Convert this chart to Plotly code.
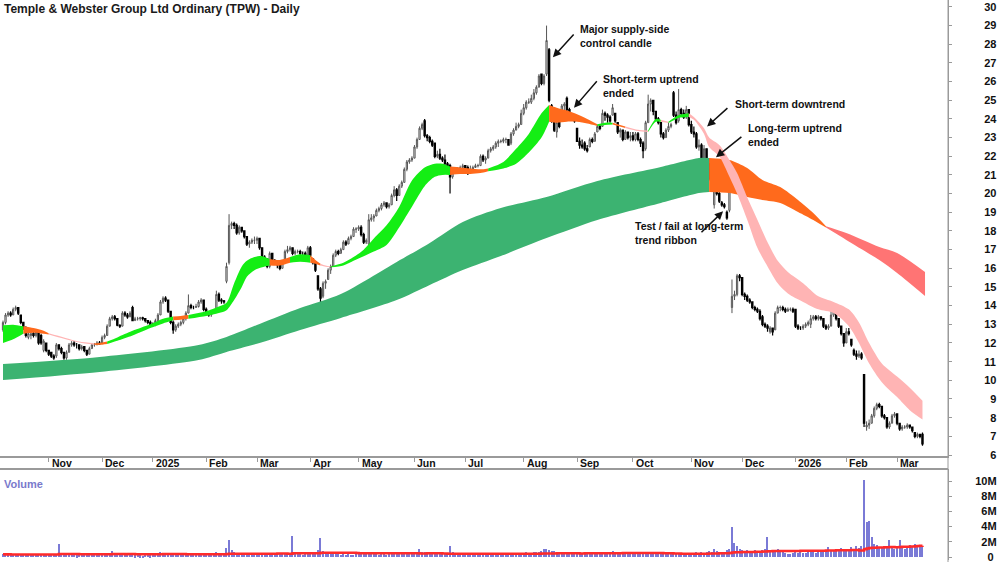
import plotly.graph_objects as go
import pandas as pd

TITLE = "Temple & Webster Group Ltd Ordinary (TPW) - Daily"

# ---------------- daily bars: (open, high, low, close), one list per month ----------------
bars_2024_10 = [(12.7,13.2,12.6,13.1),(13.1,13.6,13.0,13.5),(13.5,13.7,13.4,13.6),(13.6,13.7,13.4,13.5),
    (13.5,13.9,13.5,13.8),(13.8,14.0,13.7,13.9),(13.9,13.9,13.5,13.6),(13.5,13.5,13.0,13.1),(13.1,13.1,12.7,12.8),
    (12.8,12.9,12.3,12.4),(12.3,12.6,12.2,12.5),(12.4,12.6,12.2,12.5),(12.5,12.6,12.3,12.4),(12.4,12.7,12.3,12.6),
    (12.6,12.6,11.9,12.0),(12.4,12.5,11.9,12.0),(11.6,12.2,11.5,12.1),(12.0,12.0,11.5,11.6)]
bars_2024_11 = [(11.6,11.6,11.3,11.4),(11.5,11.5,11.2,11.3),(11.3,11.4,11.1,11.2),(11.3,12.0,11.2,11.9),
    (11.9,11.9,11.6,11.7),(11.7,11.8,11.4,11.5),(11.5,11.5,11.1,11.2),(11.2,11.6,11.1,11.5),(11.5,12.0,11.5,11.9),
    (11.9,12.1,11.8,12.0),(12.0,12.1,11.8,11.9),(11.9,12.0,11.7,11.9),(11.9,11.9,11.6,11.7),(11.7,11.9,11.6,11.8),
    (11.8,11.8,11.5,11.6),(11.6,11.6,11.3,11.4),(11.4,11.8,11.4,11.7),(11.7,12.0,11.7,11.9),(11.9,12.0,11.8,11.9),
    (11.9,12.1,11.9,12.0),(12.0,12.1,11.9,11.95)]
bars_2024_12 = [(12.0,12.4,12.0,12.3),(12.3,12.5,12.2,12.4),(12.4,13.0,12.4,12.9),(12.9,13.4,12.9,13.3),
    (13.3,13.5,13.2,13.4),(13.4,13.5,13.2,13.3),(13.3,13.3,12.9,12.95),(12.95,13.0,12.8,12.9),(12.9,13.7,12.9,13.6),
    (13.6,13.7,13.4,13.5),(13.5,13.6,13.3,13.4),(13.4,13.7,13.4,13.6),(13.9,14.0,13.2,13.2),(13.2,13.4,13.2,13.3),
    (13.3,13.4,13.2,13.3),(13.3,13.4,13.2,13.35),(13.35,13.4,13.2,13.3),(13.3,13.3,13.1,13.2),(13.2,13.2,13.0,13.1),
    (13.1,13.2,12.9,13.0)]
bars_2025_01 = [(13.0,13.1,12.9,13.0),(13.0,13.3,12.9,13.2),(13.2,13.6,13.1,13.5),(13.5,14.3,13.5,14.2),
    (14.2,14.5,14.1,14.4),(14.4,14.5,14.2,14.3),(14.3,14.3,13.6,13.7),(13.7,13.7,13.0,13.1),(13.1,13.2,12.5,12.7),
    (12.7,13.0,12.6,12.9),(12.9,13.1,12.8,13.0),(13.0,13.2,12.9,13.1),(13.1,13.4,13.0,13.3),(13.3,13.7,13.2,13.6),
    (13.6,14.6,13.6,14.0),(14.0,14.1,13.8,13.9),(13.9,14.0,13.8,13.9),(13.9,14.1,13.9,13.95),(13.95,14.3,13.9,14.2),
    (14.2,14.4,14.1,14.3),(14.3,14.3,13.7,13.8)]
bars_2025_02 = [(13.8,13.9,13.5,13.6),(13.6,13.7,13.4,13.5),(13.5,13.7,13.4,13.6),(13.6,13.8,13.6,13.7),
    (13.7,14.8,13.7,14.6),(14.6,14.7,14.2,14.3),(14.3,14.4,14.1,14.25),(14.25,14.3,14.1,14.2),(15.3,16.3,15.2,16.1),
    (16.3,18.9,16.2,18.3),(18.3,18.5,18.1,18.4),(18.4,18.5,18.1,18.3),(18.3,18.4,17.8,17.9),(17.9,18.3,17.8,18.2),
    (18.2,18.2,17.9,18.0),(18.0,18.0,17.6,17.7),(17.7,17.7,17.2,17.3),(17.3,17.5,17.1,17.4),(17.4,17.6,17.3,17.5),
    (17.5,17.7,17.3,17.5)]
bars_2025_03 = [(17.5,17.7,17.3,17.6),(17.6,17.6,17.0,17.1),(17.1,17.1,16.5,16.6),(16.6,16.7,16.3,16.5),
    (16.5,16.5,16.0,16.1),(16.1,16.9,16.0,16.8),(16.8,16.8,16.3,16.4),(16.4,16.5,16.2,16.3),(16.3,16.4,16.0,16.2),
    (16.2,16.3,15.9,16.0),(16.0,16.4,16.0,16.3),(16.3,17.0,16.3,16.9),(16.9,17.2,16.8,17.0),(17.0,17.2,16.9,17.1),
    (17.1,17.1,16.7,16.8),(16.8,17.0,16.7,16.9),(16.9,17.0,16.8,16.9),(16.9,17.0,16.7,16.8),(16.8,16.9,16.6,16.8),
    (16.8,16.9,16.6,16.7),(16.7,17.2,16.6,17.1)]
bars_2025_04 = [(17.1,17.2,16.6,16.7),(16.5,16.5,16.2,16.3),(16.3,16.3,15.8,15.9),(15.6,15.6,14.8,14.9),
    (14.9,15.0,14.0,14.4),(14.5,15.3,14.4,15.2),(15.2,15.4,14.9,15.3),(15.4,16.0,15.4,15.9),(15.9,16.2,15.7,16.1),
    (16.1,16.8,16.1,16.7),(16.7,17.0,16.6,16.9),(16.9,17.0,16.7,16.8),(16.8,17.1,16.8,17.0),(17.0,17.5,17.0,17.4),
    (17.4,17.5,17.2,17.3),(17.3,17.7,17.3,17.6),(17.6,17.8,17.5,17.7),(17.7,18.2,17.7,18.1),(18.1,18.2,17.9,18.1)]
bars_2025_05 = [(18.1,18.3,18.0,18.2),(18.2,18.3,17.7,17.8),(17.8,17.9,17.3,17.4),(17.4,17.6,17.3,17.5),
    (17.3,18.9,16.9,18.6),(18.6,18.9,18.5,18.7),(18.7,18.9,18.5,18.8),(18.8,19.2,18.8,19.1),(19.1,19.3,19.0,19.2),
    (19.2,19.5,19.1,19.4),(19.4,19.6,19.3,19.5),(19.5,19.5,19.2,19.3),(19.3,19.5,19.2,19.4),(19.4,20.0,19.4,19.9),
    (19.9,20.4,19.8,20.2),(20.2,20.3,19.6,19.9),(19.9,20.5,19.9,20.4),(20.4,20.7,20.3,20.6),(20.6,21.4,20.6,21.3),
    (21.3,21.8,21.2,21.7),(21.7,21.9,21.6,21.8),(21.8,22.0,21.7,21.9)]
bars_2025_06 = [(21.9,22.6,21.9,22.5),(22.5,23.0,22.4,22.9),(22.9,23.6,22.9,23.5),(23.5,23.8,23.4,23.7),
    (23.9,24.0,23.0,23.1),(23.1,23.2,22.8,23.0),(23.0,23.1,22.7,22.8),(22.8,22.9,22.5,22.6),(22.7,22.7,21.9,22.0),
    (22.0,22.3,21.9,22.1),(22.1,22.4,21.8,21.9),(21.9,22.0,21.7,21.8),(21.8,22.1,21.5,21.6),(21.6,21.7,21.2,21.3),
    (21.5,21.6,20.0,20.9),(20.9,21.4,20.8,21.2),(21.2,21.4,21.1,21.3),(21.3,21.4,21.1,21.2),(21.2,21.5,21.2,21.4),
    (21.4,21.6,21.3,21.5)]
bars_2025_07 = [(21.5,21.5,21.1,21.2),(21.4,21.5,21.0,21.1),(21.1,21.5,21.1,21.3),(21.3,21.5,21.2,21.4),
    (21.4,21.6,21.4,21.5),(21.5,21.6,21.4,21.5),(21.5,22.1,21.5,22.0),(22.0,22.1,21.7,21.8),(21.8,22.0,21.6,21.9),
    (21.9,22.4,21.9,22.3),(22.3,22.5,22.2,22.4),(22.4,22.6,22.3,22.5),(22.5,22.8,22.4,22.7),(22.7,22.9,22.5,22.8),
    (22.8,22.9,22.7,22.8),(22.8,23.0,22.7,22.9),(22.9,23.0,22.7,22.9),(22.9,22.9,22.6,22.6),(22.7,23.3,22.6,23.2),
    (23.2,23.5,23.1,23.4),(23.4,23.8,23.4,23.6),(23.6,23.8,23.5,23.7),(23.7,24.5,23.7,24.3)]
bars_2025_08 = [(24.3,24.8,24.2,24.6),(24.6,25.0,24.5,24.9),(24.9,25.1,24.8,24.9),(24.9,25.3,24.8,25.1),
    (25.1,25.6,25.0,25.4),(25.4,25.8,25.3,25.7),(25.7,26.4,25.7,26.3),(26.4,26.4,25.8,25.9),(25.9,26.4,25.8,26.3),
    (26.4,29.0,26.3,28.2),(27.7,27.8,24.9,25.0),(24.7,24.8,23.8,24.0),(24.2,24.3,23.3,23.4),(23.3,23.9,23.0,23.8),
    (23.8,23.9,23.5,23.6),(24.0,24.8,24.0,24.7),(24.7,24.9,24.4,24.8),(25.1,25.2,24.4,24.5),(24.5,24.6,23.9,24.0),
    (24.0,24.3,23.9,24.1),(24.1,24.1,23.8,23.9)]
bars_2025_09 = [(23.5,23.5,22.8,22.8),(22.8,23.0,22.4,22.6),(22.6,22.9,22.4,22.5),(22.7,22.8,22.3,22.4),
    (22.4,22.6,22.2,22.3),(22.5,23.0,22.5,22.9),(22.9,23.0,22.7,22.8),(22.8,23.3,22.8,23.2),(23.3,23.7,23.3,23.6),
    (23.6,23.7,23.4,23.5),(23.6,24.5,23.6,24.3),(24.3,24.4,23.9,24.2),(24.2,24.3,23.8,24.1),(24.1,24.2,23.8,23.9),
    (24.2,24.8,24.2,24.6),(24.3,24.3,23.8,23.9),(23.8,23.8,23.2,23.3),(23.3,23.5,23.0,23.4),(23.4,23.4,22.8,22.9),
    (22.9,23.4,22.9,23.3),(23.3,23.3,22.9,23.0),(23.0,23.3,22.8,23.1)]
bars_2025_10 = [(23.1,23.3,22.8,22.9),(22.9,23.3,22.8,23.2),(23.2,23.3,22.8,22.9),(22.9,23.0,22.5,22.7),
    (22.7,22.8,21.9,22.3),(22.4,23.9,22.3,23.8),(23.8,25.3,23.8,24.8),(24.8,25.1,24.4,25.0),(25.0,25.0,24.2,24.4),
    (24.4,24.4,23.9,24.0),(24.0,24.1,23.7,23.8),(23.8,23.8,23.0,23.2),(23.2,23.3,22.9,23.0),(23.0,23.5,23.0,23.4),
    (23.4,23.8,23.3,23.6),(23.6,23.8,23.5,23.7),(25.4,25.5,24.1,24.2),(24.2,24.4,23.7,23.8),(23.9,25.6,23.8,24.5),
    (24.5,24.6,24.1,24.3),(24.3,24.5,24.0,24.1),(24.1,24.7,24.0,24.5),(24.5,24.5,23.6,23.7)]
bars_2025_11 = [(23.7,23.9,23.2,23.3),(23.3,23.6,23.0,23.2),(23.2,23.3,22.4,22.5),(22.5,22.9,22.3,22.6),
    (22.6,22.7,21.8,21.9),(21.9,22.6,21.7,22.4),(22.4,22.4,21.5,21.6),(21.6,21.9,20.7,20.8),(20.9,21.0,20.4,20.5),
    (19.4,20.5,19.2,20.3),(20.7,20.8,19.9,20.0),(20.0,20.1,19.5,19.6),(19.5,19.6,19.3,19.4),(19.4,19.5,19.2,19.3),
    (19.0,19.1,18.6,18.7),(19.1,20.4,19.0,20.3),(13.9,15.4,13.6,14.5),(14.5,14.8,14.3,14.6),(14.6,15.7,14.5,15.6),
    (15.6,15.7,15.3,15.5)]
bars_2025_12 = [(15.5,15.5,14.5,14.6),(14.6,14.7,14.3,14.5),(14.5,14.6,14.2,14.3),(14.3,14.4,14.1,14.2),
    (14.2,14.2,13.8,13.9),(13.9,14.0,13.7,13.8),(13.8,13.9,13.6,13.7),(13.7,13.8,13.2,13.3),(13.4,13.5,12.9,13.0),
    (13.0,13.1,12.8,12.9),(12.9,13.0,12.6,12.8),(12.6,12.9,12.5,12.8),(12.8,12.8,12.4,12.6),(12.7,13.7,12.7,13.6),
    (13.6,14.0,13.6,13.9),(13.9,14.0,13.7,13.9),(13.9,14.0,13.7,13.8),(13.8,13.9,13.6,13.7),(13.7,13.9,13.7,13.8),
    (13.8,13.9,13.7,13.8),(13.8,13.9,13.6,13.7)]
bars_2026_01 = [(13.8,13.8,12.8,12.9),(12.9,13.0,12.7,12.8),(12.8,12.9,12.7,12.8),(12.8,13.0,12.7,12.9),
    (12.9,13.1,12.8,13.0),(13.0,13.2,12.9,13.1),(13.0,13.5,12.8,13.3),(13.3,13.5,13.2,13.4),(13.4,13.5,13.2,13.3),
    (13.3,13.5,13.2,13.4),(13.4,13.4,13.2,13.3),(13.3,13.3,12.8,12.9),(12.9,13.0,12.7,12.8),(12.8,13.0,12.7,12.9),
    (12.9,13.8,12.9,13.5),(13.5,13.9,13.4,13.8),(13.8,13.8,13.2,13.3),(13.3,13.3,12.8,12.9),(12.9,12.9,12.4,12.5),
    (12.5,12.5,11.8,12.0)]
bars_2026_02 = [(12.0,12.8,12.0,12.6),(12.6,12.8,12.4,12.5),(12.2,12.2,11.8,11.9),(11.6,11.7,11.3,11.4),
    (11.4,11.6,11.1,11.3),(11.3,11.6,11.2,11.4),(11.4,11.5,11.1,11.2),(10.3,10.3,7.5,7.7),(7.5,7.8,7.3,7.6),
    (7.6,7.9,7.4,7.7),(7.7,8.2,7.7,8.1),(8.1,8.6,8.0,8.5),(8.5,8.8,8.4,8.7),(8.7,8.8,8.5,8.6),(8.6,8.6,8.0,8.1),
    (8.1,8.2,7.9,8.0),(8.0,8.0,7.4,7.5),(7.5,7.8,7.4,7.7),(7.7,8.2,7.7,8.1),(8.1,8.3,8.0,8.2)]
bars_2026_03 = [(8.2,8.2,7.6,7.7),(7.7,7.7,7.3,7.4),(7.4,7.6,7.3,7.5),(7.5,7.6,7.4,7.5),(7.5,7.7,7.4,7.6),
    (7.6,7.6,7.4,7.5),(7.5,7.5,7.2,7.3),(7.2,7.2,6.9,7.0),(7.0,7.2,6.9,7.1),(7.1,7.1,6.9,7.0),(7.1,7.2,6.5,6.6)]

# ---------------- daily volume (millions of shares), one list per month ----------------
vol_2024_10 = [0.35,0.3,0.4,0.3,0.35,0.3,0.4,0.35,0.3,0.3,0.4,0.35,0.3,0.35,0.4,0.3,0.35,0.4]
vol_2024_11 = [0.3,0.35,0.3,0.4,1.7,0.4,0.35,0.3,0.3,0.35,0.3,0.25,0.3,0.3,0.4,0.35,0.3,0.3,0.3,0.35,0.3]
vol_2024_12 = [0.4,0.4,0.5,0.5,0.8,0.4,0.3,0.4,0.3,0.35,0.5,0.3,0.3,0.25,0.3,0.25,0.2,0.3,0.3,0.25]
vol_2025_01 = [0.3,0.4,0.5,0.6,0.5,0.4,0.4,0.5,0.35,0.3,0.3,0.35,0.4,0.5,0.35,0.3,0.3,0.35,0.3,0.35,0.4]
vol_2025_02 = [0.3,0.3,0.35,0.3,0.6,0.4,0.3,0.3,1.2,2.3,0.9,0.6,0.5,0.4,0.4,0.45,0.4,0.35,0.3,0.3]
vol_2025_03 = [0.35,0.4,0.4,0.35,0.4,0.5,0.35,0.3,0.3,0.4,0.35,0.5,0.4,0.35,2.8,0.6,0.4,0.35,0.3,0.35,0.4]
vol_2025_04 = [0.4,0.5,0.6,0.9,2.5,0.8,0.6,0.5,0.4,0.45,0.4,0.35,0.3,0.35,0.3,0.35,0.3,0.3,0.35]
vol_2025_05 = [0.35,0.4,0.45,0.4,0.6,0.4,0.35,0.4,0.3,0.35,0.4,0.3,0.35,0.4,0.45,0.4,0.35,0.4,0.5,0.45,0.4,0.35]
vol_2025_06 = [0.4,0.5,1.0,0.6,0.7,0.5,0.4,0.4,0.5,0.4,0.35,0.4,0.35,0.4,1.4,0.6,0.4,0.35,0.3,0.35]
vol_2025_07 = [0.3,0.35,0.3,0.3,0.35,0.3,0.4,0.35,0.3,0.35,0.4,0.35,0.3,0.3,0.35,0.3,0.3,0.35,0.3,0.35,0.4,0.4,0.5]
vol_2025_08 = [0.5,0.6,0.5,0.5,0.6,0.7,0.7,0.8,1.0,1.1,0.9,0.8,0.8,0.6,0.5,0.5,0.6,0.6,0.5,0.5,0.45]
vol_2025_09 = [0.5,0.45,0.4,0.45,0.4,0.45,0.4,0.4,0.45,0.4,0.45,0.4,0.35,0.4,0.8,0.5,0.45,0.4,0.4,0.35,0.4,0.35]
vol_2025_10 = [0.35,0.4,0.35,0.4,0.6,0.5,0.6,0.45,0.4,0.45,0.4,0.4,0.35,0.4,0.5,0.4,0.5,0.4,0.4,0.35,0.4,0.45,0.5]
vol_2025_11 = [0.5,0.5,0.6,0.5,0.6,0.5,0.6,0.8,0.7,1.0,0.8,0.7,0.6,0.7,0.9,1.0,3.9,1.8,1.4,1.0]
vol_2025_12 = [0.9,0.8,0.9,0.7,0.8,0.9,0.8,0.7,0.9,1.0,2.6,0.8,0.7,0.6,1.1,0.7,0.6,0.5,0.4,0.4,0.5]
vol_2026_01 = [0.6,0.5,0.6,0.5,0.5,0.6,0.7,0.6,0.5,0.6,0.7,0.8,0.9,1.3,0.9,0.8,1.0,0.9,1.2,1.0]
vol_2026_02 = [0.9,1.0,1.3,1.0,1.4,1.2,1.4,10.1,4.6,4.7,2.6,1.7,1.6,1.3,1.2,1.4,1.2,2.2,1.3,1.1]
vol_2026_03 = [1.2,2.2,1.4,1.1,1.3,1.6,1.5,1.7,1.5,1.6,1.4]

month_labels = ["", "Nov", "Dec", "2025", "Feb", "Mar", "Apr", "May", "Jun", "Jul", "Aug",
                "Sep", "Oct", "Nov", "Dec", "2026", "Feb", "Mar"]

# ---------------- trend ribbons: (bar index, upper, lower) per coloured stretch ----------------
short_ribbon = [
    [(0,12.95,12.0),(4,12.98,12.2),(8,12.9,12.5)],
    [(8,12.9,12.5),(12,12.8,12.55),(16,12.65,12.5),(18,12.52,12.45)],
    [(18,12.52,12.45),(24,12.3,12.22),(30,12.08,12.02),(36,11.98,11.9)],
    [(36,11.98,11.9),(38,12.0,11.9),(41,12.08,11.95)],
    [(41,12.08,11.95),(45,12.3,12.12),(51,12.65,12.4),(58,13.0,12.8),(63,13.3,13.05),(67,13.42,13.22)],
    [(67,13.42,13.22),(70,13.45,13.25),(73,13.5,13.3)],
    [(73,13.5,13.3),(80,13.7,13.45),(85,13.95,13.6),(88,14.15,13.75),(91,15.2,14.3),(94,16.1,15.0),
     (96,16.4,15.55),(99,16.6,15.9),(102,16.65,16.05),(105,16.5,16.15)],
    [(105,16.5,16.15),(109,16.45,16.15),(113,16.6,16.3)],
    [(113,16.6,16.3),(117,16.75,16.35),(121,16.7,16.3)],
    [(121,16.7,16.3),(123,16.45,16.25),(125,16.25,16.15)],
    [(125,16.25,16.15),(127,16.15,16.08),(129,16.1,16.05)],
    [(129,16.1,16.05),(134,16.3,16.15),(138,16.6,16.4),(142,17.0,16.65),(146,17.6,16.9),(151,18.3,17.25),
     (156,19.3,18.2),(161,20.7,19.3),(166,21.4,20.4),(170,21.6,20.9),(173,21.6,21.0),(176,21.45,21.0)],
    [(176,21.45,21.0),(180,21.4,21.05),(184,21.35,21.05),(188,21.3,21.1),(191,21.35,21.2)],
    [(191,21.35,21.2),(197,21.7,21.35),(202,22.4,21.6),(207,23.2,22.2),(212,24.3,23.0),(215,24.75,23.85)],
    [(215,24.75,23.85),(218,24.6,23.8),(222,24.45,23.85),(226,24.25,23.85),(230,24.0,23.75),(234,23.72,23.62)],
    [(234,23.72,23.62),(237,23.8,23.68),(240,23.8,23.7)],
    [(240,23.8,23.7),(245,23.6,23.52)],
    [(245,23.6,23.52),(250,23.42,23.35),(254,23.38,23.3)],
    [(254,23.38,23.3),(257,24.0,23.85),(259,23.95,23.85)],
    [(259,23.95,23.85),(262,23.85,23.78)],
    [(262,23.85,23.78),(266,24.2,24.05),(270,24.3,24.1)],
    [(270,24.3,24.1),(272,24.1,23.95),(276,23.5,23.2),(278,23.0,22.5),(282,22.6,22.0),(286,21.8,20.9),
     (289,21.1,20.0),(293,19.8,18.6),(297,18.6,17.1),(301,17.4,16.1),(305,16.4,15.2),(309,15.8,14.65),
     (315,15.2,14.2),(321,14.5,13.8),(327,14.2,13.6),(333,13.8,12.9),(337,13.1,12.0),(341,12.0,10.9),
     (346,10.9,9.9),(352,10.2,9.1),(357,9.6,8.4),(362,8.9,7.9)],
]
short_ribbon_state = ["up", "mixed", "down", "mixed", "up", "mixed", "up", "mixed", "up", "mixed", "down",
                      "up", "mixed", "up", "mixed", "up", "mixed", "down", "up", "down", "up", "down"]

long_ribbon = [
    [(0,10.87,10.02),(38,11.25,10.45),(77,11.89,11.09),(88,12.32,11.52),(101,13.02,12.0),(117,13.87,12.7),
     (133,14.62,13.34),(155,16.34,14.3),(168,17.36,15.11),(181,18.48,15.91),(196,19.23,16.66),
     (214,19.82,17.62),(234,20.68,18.59),(259,21.43,19.5),(274,21.91,20.03),(278,21.91,20.09)],
    [(278,21.91,20.09),(286,21.8,20.03),(293,21.37,19.82),(299,20.73,19.66),(306,20.35,19.5),
     (313,19.66,19.02),(319,18.96,18.59),(324,18.25,18.18)],
    [(324,18.25,18.18),(332,17.89,17.52),(345,17.14,16.44),(352,16.82,15.75),(363,15.8,14.52)],
]
long_ribbon_state = ["up", "mixed", "down"]

# ---------------- assemble ----------------
month_bars = [bars_2024_10, bars_2024_11, bars_2024_12, bars_2025_01, bars_2025_02, bars_2025_03,
              bars_2025_04, bars_2025_05, bars_2025_06, bars_2025_07, bars_2025_08, bars_2025_09,
              bars_2025_10, bars_2025_11, bars_2025_12, bars_2026_01, bars_2026_02, bars_2026_03]
month_vols = [vol_2024_10, vol_2024_11, vol_2024_12, vol_2025_01, vol_2025_02, vol_2025_03,
              vol_2025_04, vol_2025_05, vol_2025_06, vol_2025_07, vol_2025_08, vol_2025_09,
              vol_2025_10, vol_2025_11, vol_2025_12, vol_2026_01, vol_2026_02, vol_2026_03]

opens, highs, lows, closes, vols, month_start = [], [], [], [], [], []
for bars, vv in zip(month_bars, month_vols):
    month_start.append(len(opens))
    for o, h, l, c in bars:
        opens.append(o); highs.append(h); lows.append(l); closes.append(c)
    vols.extend(vv)
xs = list(range(len(closes)))
vol_ma = pd.Series(vols).rolling(50, min_periods=1).mean()

SHORT_COL = {"up": "#14EE14", "mixed": "#FF6A1C", "down": "#FFB4B4"}
LONG_COL = {"up": "#3CB371", "mixed": "#FF6A1C", "down": "#FF7474"}
FONT = "Liberation Sans, Arial, sans-serif"

W, H = 1000, 562
PLOT_W = 948
PX_PER_BAR = 2.54
X0 = -3 / PX_PER_BAR
X1 = X0 + PLOT_W / PX_PER_BAR

def py(px):  # pixel row -> paper y
    return 1 - px / H

fig = go.Figure()

def add_ribbon(segments, states, colors):
    for seg, st in zip(segments, states):
        sx = [p[0] for p in seg]
        fig.add_trace(go.Scatter(x=sx, y=[p[1] for p in seg], mode="lines",
                                 line=dict(width=0, shape="spline", smoothing=0.8),
                                 hoverinfo="skip", showlegend=False, xaxis="x", yaxis="y"))
        fig.add_trace(go.Scatter(x=sx, y=[p[2] for p in seg], mode="lines", fill="tonexty",
                                 fillcolor=colors[st], line=dict(width=0, shape="spline", smoothing=0.8),
                                 hoverinfo="skip", showlegend=False, xaxis="x", yaxis="y"))

add_ribbon(long_ribbon, long_ribbon_state, LONG_COL)
add_ribbon(short_ribbon, short_ribbon_state, SHORT_COL)

fig.add_trace(go.Candlestick(
    x=xs, open=opens, high=highs, low=lows, close=closes, xaxis="x", yaxis="y",
    increasing=dict(line=dict(color="#555555", width=1), fillcolor="#ffffff"),
    decreasing=dict(line=dict(color="#000000", width=1.2), fillcolor="#000000"),
    whiskerwidth=0, hoverinfo="skip", showlegend=False))

fig.add_trace(go.Bar(x=xs, y=vols, xaxis="x2", yaxis="y2", width=0.45,
                     marker=dict(color="#7a7ad6", line=dict(width=0)), showlegend=False, hoverinfo="skip"))
fig.add_trace(go.Scatter(x=xs, y=vol_ma, xaxis="x2", yaxis="y2", mode="lines",
                         line=dict(color="#ff2a2a", width=2.5, shape="hv"), showlegend=False, hoverinfo="skip"))

price_ticks = list(range(6, 31))
price_text = [("\u2007" + str(v)) if v < 10 else str(v) for v in price_ticks]
vol_ticks = [0, 2, 4, 6, 8, 10]
vol_text = ["\u2007\u20070", "\u20072M", "\u20074M", "\u20076M", "\u20078M", "10M"]

axis_font = dict(family=FONT, size=11, color="#111111", weight="bold")

fig.update_layout(
    width=W, height=H, margin=dict(l=0, r=W - PLOT_W, t=0, b=0, autoexpand=False),
    paper_bgcolor="white", plot_bgcolor="white", showlegend=False, hovermode=False,
    bargap=0,
    xaxis=dict(domain=[0, 1], range=[X0, X1], showgrid=False, zeroline=False, automargin=False,
               showline=True, linecolor="#9a9a9a", linewidth=2,
               tickmode="array", tickvals=month_start[1:], ticks="outside", ticklen=4,
               tickcolor="#9a9a9a", showticklabels=False, rangeslider=dict(visible=False)),
    yaxis=dict(domain=[py(456), 1], range=[6 - 1 / 18.67, 6 + 455 / 18.67], side="right",
               showgrid=False, zeroline=False, showline=True, linecolor="#9a9a9a", linewidth=1,
               automargin=False, ticklabeloverflow="allow",
               tickmode="array", tickvals=price_ticks, ticktext=price_text, ticks="outside",
               ticklen=3, tickcolor="#9a9a9a", tickfont=axis_font, ticklabelstandoff=30),
    xaxis2=dict(domain=[0, 1], range=[X0, X1], matches="x", anchor="y2", showgrid=False,
                zeroline=False, showline=False, showticklabels=False, ticks="", automargin=False),
    yaxis2=dict(domain=[py(560), py(469)], range=[-0.39, 11.58], side="right", anchor="x2",
                showgrid=False, zeroline=False, showline=True, linecolor="#9a9a9a", linewidth=1,
                automargin=False, ticklabeloverflow="allow",
                tickmode="array", tickvals=vol_ticks, ticktext=vol_text, ticks="outside",
                ticklen=3, tickcolor="#9a9a9a", tickfont=axis_font, ticklabelstandoff=21),
)

shapes = [
    dict(type="line", xref="paper", yref="paper", x0=0, x1=1, y0=py(469), y1=py(469),
         line=dict(color="#9a9a9a", width=2)),
    dict(type="line", xref="paper", yref="paper", x0=1, x1=1, y0=0, y1=1,
         line=dict(color="#9a9a9a", width=1)),
]
fig.update_layout(shapes=shapes)

ann = []
ann.append(dict(xref="paper", yref="paper", x=2 / PLOT_W, y=py(9), xanchor="left", yanchor="middle",
                text=TITLE, showarrow=False, font=dict(family=FONT, size=12, color="#1a1a1a", weight="bold")))
ann.append(dict(xref="paper", yref="paper", x=2 / PLOT_W, y=py(484), xanchor="left", yanchor="middle",
                text="Volume", showarrow=False, font=dict(family=FONT, size=11, color="#7a7acc", weight="bold")))
for s, lab in zip(month_start, month_labels):
    if lab:
        ann.append(dict(xref="x", yref="paper", x=s, y=py(463), xanchor="left", yanchor="middle",
                        xshift=1, text=lab, showarrow=False,
                        font=dict(family=FONT, size=10.5, color="#111111", weight="bold")))

note_font = dict(family=FONT, size=10.5, color="#111111", weight="bold")
notes = [
    ("Major supply-side<br>control candle", 226.4, 28.45),
    ("Short-term uptrend<br>ended", 235.4, 25.76),
    ("Short-term downtrend", 287.4, 24.80),
    ("Long-term uptrend<br>ended", 292.5, 23.14),
    ("Test / fail at long-term<br>trend ribbon", 248.0, 17.89),
]
for t, nx, ny in notes:
    ann.append(dict(xref="x", yref="y", x=nx, y=ny, xanchor="left", yanchor="middle", align="left",
                    text=t, showarrow=False, font=note_font))

arrows = [
    ((216.5, 27.3), (225.2, 28.6)),
    ((224.8, 24.6), (234.3, 26.1)),
    ((277.2, 23.6), (285.8, 24.65)),
    ((280.7, 21.95), (291.3, 23.1)),
    ((283.5, 19.05), (274.4, 17.85)),
]
for (hx, hy), (tx, ty) in arrows:
    ann.append(dict(xref="x", yref="y", x=hx, y=hy, axref="x", ayref="y", ax=tx, ay=ty, text="",
                    showarrow=True, arrowhead=2, arrowsize=1.1, arrowwidth=1.5, arrowcolor="#111111",
                    standoff=0, startstandoff=0))
fig.update_layout(annotations=ann)

fig.write_html("out.html")
